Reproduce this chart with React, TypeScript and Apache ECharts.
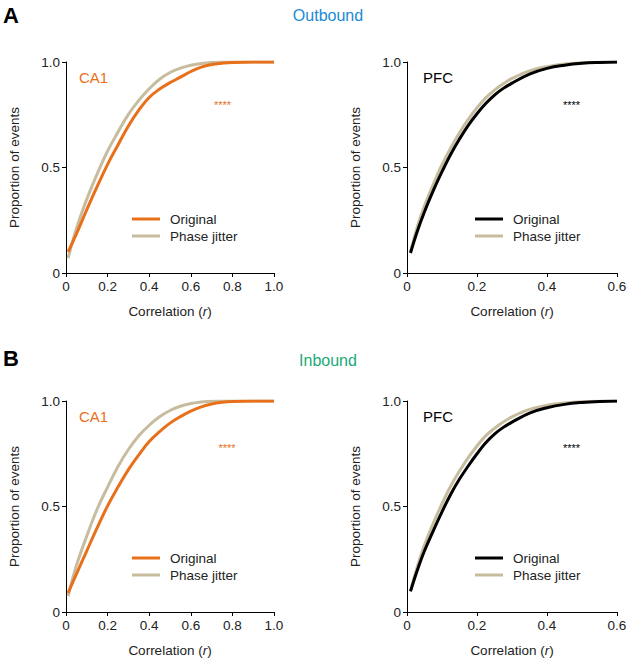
import React, { useEffect, useRef } from "react";
import * as echarts from "echarts";

// CA1 x grid (correlation r)
const ca1X = [0.01, 0.05, 0.1, 0.15, 0.2, 0.25, 0.3, 0.35, 0.4, 0.45, 0.5, 0.55, 0.6, 0.65, 0.7, 0.75, 0.8, 0.9, 1.0];
const ca1OutOriginal = [0.1, 0.185, 0.3, 0.41, 0.515, 0.607, 0.697, 0.772, 0.832, 0.872, 0.902, 0.928, 0.955, 0.976, 0.988, 0.994, 0.998, 1.0, 1.0];
const ca1OutJitter = [0.07, 0.21, 0.35, 0.47, 0.578, 0.668, 0.752, 0.818, 0.873, 0.918, 0.95, 0.971, 0.985, 0.993, 0.998, 1.0, 1.0, 1.0, 1.0];
const ca1InOriginal = [0.09, 0.18, 0.29, 0.4, 0.503, 0.592, 0.675, 0.745, 0.808, 0.855, 0.895, 0.926, 0.952, 0.972, 0.986, 0.994, 0.998, 1.0, 1.0];
const ca1InJitter = [0.075, 0.22, 0.36, 0.488, 0.592, 0.69, 0.77, 0.835, 0.885, 0.925, 0.955, 0.975, 0.988, 0.995, 0.999, 1.0, 1.0, 1.0, 1.0];

// PFC x grid
const pfcX = [0.01, 0.03, 0.05, 0.075, 0.1, 0.125, 0.15, 0.175, 0.2, 0.225, 0.25, 0.275, 0.3, 0.35, 0.4, 0.45, 0.5, 0.55, 0.6];
const pfcOutOriginal = [0.095, 0.2, 0.29, 0.39, 0.48, 0.563, 0.635, 0.7, 0.755, 0.803, 0.843, 0.875, 0.9, 0.943, 0.97, 0.985, 0.994, 0.998, 1.0];
const pfcOutJitter = [0.1, 0.222, 0.318, 0.42, 0.513, 0.593, 0.665, 0.728, 0.783, 0.83, 0.867, 0.897, 0.922, 0.958, 0.978, 0.99, 0.996, 0.999, 1.0];
const pfcInOriginal = [0.098, 0.2, 0.29, 0.385, 0.475, 0.558, 0.63, 0.692, 0.75, 0.802, 0.843, 0.875, 0.9, 0.943, 0.968, 0.984, 0.993, 0.998, 1.0];
const pfcInJitter = [0.1, 0.218, 0.318, 0.42, 0.513, 0.597, 0.668, 0.732, 0.787, 0.835, 0.87, 0.9, 0.925, 0.96, 0.98, 0.991, 0.996, 0.999, 1.0];

const ca1Ticks = { min: 0, max: 1.0, interval: 0.2 };
const pfcTicks = { min: 0, max: 0.6, interval: 0.2 };
const yTicks = { min: 0, max: 1.0, interval: 0.5 };

const ORANGE = "#e8701a";
const BEIGE = "#c8bc9f";
const BLACK = "#000000";
const FONT = "Liberation Sans";

const zip = (xs: number[], ys: number[]) => xs.map((x, i) => [x, ys[i]]);
const fmt = (v: number) => (v === 0 ? "0" : v.toFixed(1));

export default function App() {
  const ref = useRef<HTMLDivElement>(null);
  useEffect(() => {
    if (!ref.current) return;
    const chart = echarts.init(ref.current, undefined, { renderer: "svg" });

    const grids = [
      { left: 66, top: 62, width: 208, height: 211 },
      { left: 407, top: 62, width: 210, height: 211 },
      { left: 66, top: 401, width: 208, height: 211 },
      { left: 407, top: 401, width: 210, height: 211 },
    ];
    const xRanges = [ca1Ticks, pfcTicks, ca1Ticks, pfcTicks];

    const axisCommon = {
      axisLine: { show: true, lineStyle: { color: "#000", width: 1 } },
      axisTick: { show: true, inside: false, length: 4, lineStyle: { color: "#000" } },
      splitLine: { show: false },
      axisLabel: { color: "#222", fontSize: 13.5, fontFamily: FONT, margin: 6, formatter: fmt },
    };

    const xAxis = grids.map((_, i) => ({
      type: "value",
      gridIndex: i,
      ...xRanges[i],
      ...axisCommon,
      name: "Correlation ({it|r})",
      nameLocation: "middle",
      nameGap: 31,
      nameTextStyle: {
        color: "#222",
        fontSize: 13.5,
        fontFamily: FONT,
        rich: { it: { fontStyle: "italic", color: "#222", fontSize: 13.5, fontFamily: FONT } },
      },
    }));
    const yAxis = grids.map((_, i) => ({
      type: "value",
      gridIndex: i,
      ...yTicks,
      ...axisCommon,
      name: "Proportion of events",
      nameLocation: "middle",
      nameGap: 45,
      nameTextStyle: { color: "#222", fontSize: 13.5, fontFamily: FONT },
    }));

    const mk = (name: string, idx: number, xs: number[], ys: number[], color: string, z: number) => ({
      type: "line",
      name,
      xAxisIndex: idx,
      yAxisIndex: idx,
      data: zip(xs, ys),
      smooth: 0.4,
      showSymbol: false,
      symbol: "none",
      lineStyle: { color, width: 3 },
      itemStyle: { color },
      z,
    });

    const series = [
      mk("Phase jitter|0", 0, ca1X, ca1OutJitter, BEIGE, 2),
      mk("Original|0", 0, ca1X, ca1OutOriginal, ORANGE, 3),
      mk("Phase jitter|1", 1, pfcX, pfcOutJitter, BEIGE, 2),
      mk("Original|1", 1, pfcX, pfcOutOriginal, BLACK, 3),
      mk("Phase jitter|2", 2, ca1X, ca1InJitter, BEIGE, 2),
      mk("Original|2", 2, ca1X, ca1InOriginal, ORANGE, 3),
      mk("Phase jitter|3", 3, pfcX, pfcInJitter, BEIGE, 2),
      mk("Original|3", 3, pfcX, pfcInOriginal, BLACK, 3),
    ];

    const legendPos = [
      { left: 127, top: 207 },
      { left: 470, top: 207 },
      { left: 127, top: 546 },
      { left: 470, top: 546 },
    ];
    const legend = legendPos.map((p, i) => ({
      ...p,
      orient: "vertical",
      data: [`Original|${i}`, `Phase jitter|${i}`],
      icon: "rect",
      itemWidth: 28,
      itemHeight: 3,
      itemGap: 3,
      selectedMode: false,
      formatter: (n: string) => n.split("|")[0],
      textStyle: { color: "#222", fontSize: 13.5, fontFamily: FONT, padding: [0, 0, 0, 5] },
    }));

    const txt = (text: string, x: number, y: number, fontSize: number, fill: string, extra: any = {}) => ({
      type: "text",
      x,
      y,
      style: { text, fontSize, fill, fontFamily: FONT, textVerticalAlign: "middle", ...extra },
    });

    const graphic = [
      txt("A", 3, 15, 22, "#000", { fontWeight: "bold" }),
      txt("Outbound", 328, 15, 16, "#1a8ad4", { textAlign: "center" }),
      txt("B", 3, 358, 22, "#000", { fontWeight: "bold" }),
      txt("Inbound", 328, 360, 16, "#1aaa78", { textAlign: "center" }),
      txt("CA1", 79, 77, 15, ORANGE),
      txt("PFC", 423, 77, 15, "#000"),
      txt("CA1", 79, 416, 15, ORANGE),
      txt("PFC", 423, 416, 15, "#000"),
      txt("****", 222.5, 105, 11, ORANGE, { textAlign: "center" }),
      txt("****", 571.5, 105, 11, "#000", { textAlign: "center" }),
      txt("****", 227, 448, 11, ORANGE, { textAlign: "center" }),
      txt("****", 571.5, 448, 11, "#000", { textAlign: "center" }),
    ];

    chart.setOption({
      animation: false,
      backgroundColor: "#fff",
      grid: grids,
      xAxis,
      yAxis,
      series,
      legend,
      graphic,
    });
    return () => chart.dispose();
  }, []);
  return (
    <div
      ref={ref}
      style={{ position: "fixed", left: 0, top: 0, width: 630, height: 661 }}
    />
  );
}
